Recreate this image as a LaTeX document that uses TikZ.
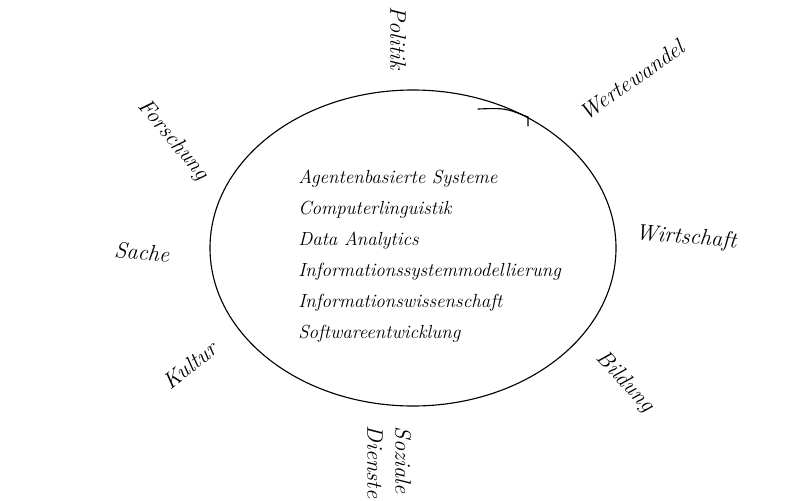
\documentclass[tikz,border=0pt]{standalone}
\usepackage{tikz}
\usetikzlibrary{positioning}

\tikzset{
	area/.style={font=\fontsize{16}{18}\selectfont\itshape, inner sep=1pt},
	field/.style={font=\fontsize{13.5}{22}\selectfont\itshape, align=left, inner sep=0pt},
	hand/.style={line width=0.8pt, line cap=round}
}

\begin{document}
\begin{tikzpicture}[x=0.025cm,y=-0.025cm]
		\useasboundingbox (0,0) rectangle (800,500);

		% Define the circle
		\draw[hand] (413,248) ellipse [x radius=203, y radius=158];
		\coordinate (tailA) at (478,109);
		\coordinate (tailB) at (528,117);
		\draw[hand] (tailA) .. controls (505,108) .. (tailB) -- (528,126);

		% Define nodes
		\node[field, anchor=north west] (list) at (298,170) {Agentenbasierte Systeme\\
			Computerlinguistik\\
			Data Analytics\\
			Informationssystemmodellierung\\
			Informationswissenschaft\\
			Softwareentwicklung};

		\node[area, rotate=-90] (politik) at (398,38) {Politik};
		\node[area, rotate=35] (werte) at (632,80) {Wertewandel};
		\node[area, rotate=-5] (wirtschaft) at (686,238) {Wirtschaft};
		\node[area, rotate=-47] (bildung) at (625,382) {Bildung};
		\node[area, rotate=-90] (soziale) at (403,460) {Soziale};
		\node[area, rotate=-90] (dienste) at (375,462) {Dienste};
		\node[area, rotate=38] (kultur) at (190,365) {Kultur};
		\node[area, rotate=-5] (sache) at (142,252) {Sache};
		\node[area, rotate=-50] (forschung) at (173,140) {Forschung};
	\end{tikzpicture}
\end{document}
